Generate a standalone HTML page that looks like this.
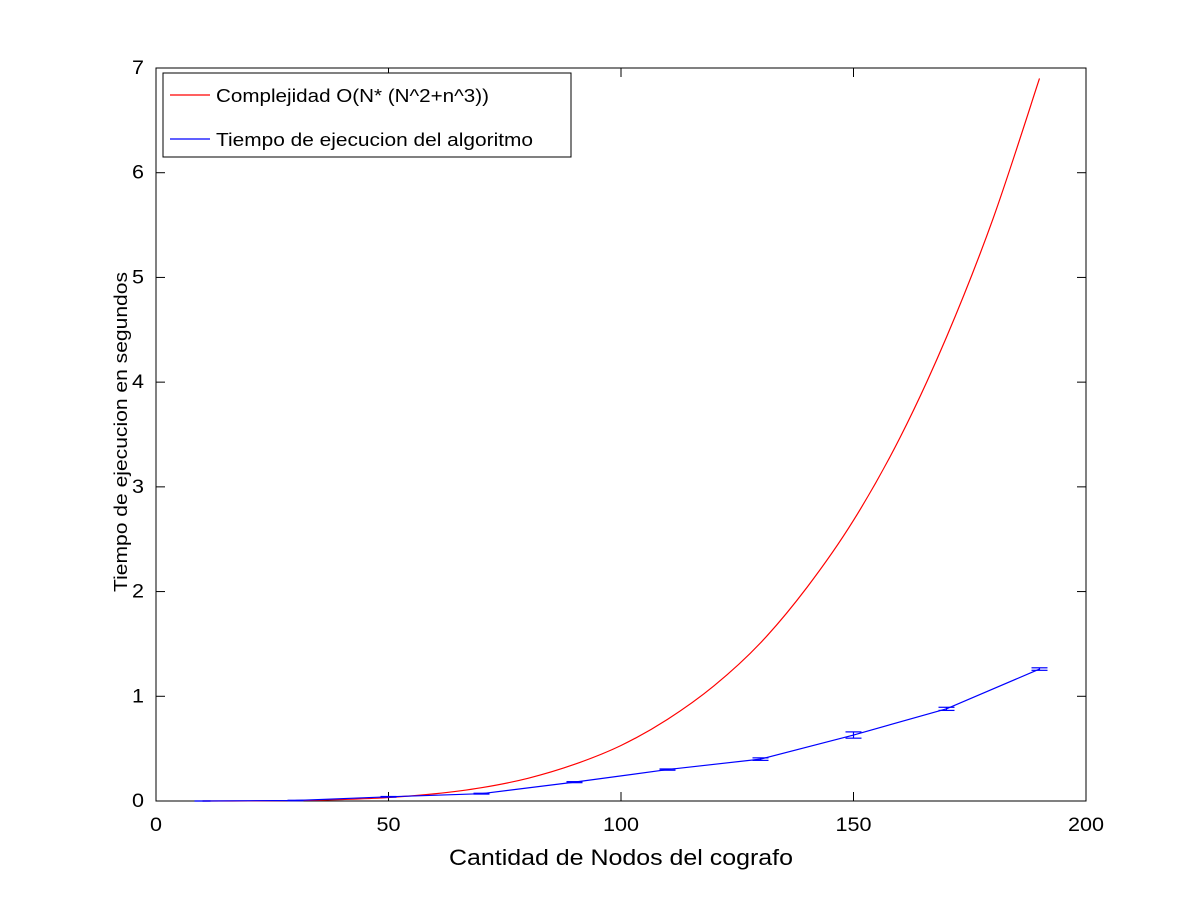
<!DOCTYPE html>
<html><head><meta charset="utf-8"><style>
body{margin:0;background:#fff}
text{font-family:"Liberation Sans",sans-serif;fill:#000}
</style></head><body>
<svg id="chart" width="1200" height="900">
</svg>
<script>
const redX=[10,20,30,40,50,60,70,80,90,100,110,120,130,140,150,160,170,180,190];
const redY=[0.0001,0.0008,0.004,0.014,0.033,0.069,0.127,0.217,0.35,0.53,0.78,1.10,1.51,2.04,2.68,3.47,4.43,5.56,6.9];
const blueX=[10,30,50,70,90,110,130,150,170,190];
const blueY=[0,0.005,0.04,0.07,0.18,0.30,0.40,0.63,0.88,1.26];
const blueErr=[0,0.002,0.003,0.004,0.005,0.006,0.012,0.03,0.015,0.012];
const xTicks=[0,50,100,150,200];
const yTicks=[0,1,2,3,4,5,6,7];
const L=156,R=1086,T=68,B=801;
const sx=v=>L+(v-0)/200*(R-L);
const sy=v=>B-v/7*(B-T);
const NS='http://www.w3.org/2000/svg';
const svg=document.getElementById('chart');
function mk(tag,attrs,parent){const e=document.createElementNS(NS,tag);for(const k in attrs)e.setAttribute(k,attrs[k]);(parent||svg).appendChild(e);return e;}
function smooth(pts){
  let d='M'+pts[0][0]+','+pts[0][1];
  for(let i=0;i<pts.length-1;i++){
    const p0=pts[Math.max(0,i-1)],p1=pts[i],p2=pts[i+1],p3=pts[Math.min(pts.length-1,i+2)];
    const c1=[p1[0]+(p2[0]-p0[0])/6,p1[1]+(p2[1]-p0[1])/6];
    const c2=[p2[0]-(p3[0]-p1[0])/6,p2[1]-(p3[1]-p1[1])/6];
    d+=' C'+c1[0]+','+c1[1]+' '+c2[0]+','+c2[1]+' '+p2[0]+','+p2[1];
  }
  return d;
}
let f=mk('rect',{x:L,y:T,width:R-L,height:B-T,fill:'none',stroke:'#000','stroke-width':1});


xTicks.forEach(v=>{
  const x=sx(v);
  mk('line',{x1:x,y1:B,x2:x,y2:B-9,stroke:'#000'});
  mk('line',{x1:x,y1:T,x2:x,y2:T+9,stroke:'#000'});
  const t=mk('text',{x:x,y:B+30,'text-anchor':'middle','font-size':19,textLength:String(v).length*12,lengthAdjust:'spacingAndGlyphs'});
  t.textContent=v;
  
  
});
yTicks.forEach(v=>{
  const y=sy(v);
  mk('line',{x1:L,y1:y,x2:L+9,y2:y,stroke:'#000'});
  mk('line',{x1:R,y1:y,x2:R-9,y2:y,stroke:'#000'});
  const t=mk('text',{x:L-12,y:y+6,'text-anchor':'end','font-size':19,textLength:12,lengthAdjust:'spacingAndGlyphs'});
  t.textContent=v;
  
  
});
let xl=mk('text',{x:621,y:865,'text-anchor':'middle','font-size':22,textLength:344,lengthAdjust:'spacingAndGlyphs'});
xl.textContent='Cantidad de Nodos del cografo';


let yl=mk('text',{x:127,y:432,'text-anchor':'middle','font-size':18,textLength:320,lengthAdjust:'spacingAndGlyphs',transform:'rotate(-90 127 432)'});
yl.textContent='Tiempo de ejecucion en segundos';


let rp=mk('path',{d:smooth(redX.map((x,i)=>[sx(x),sy(redY[i])])),fill:'none',stroke:'#f00','stroke-width':1.2});


let bp=mk('polyline',{points:blueX.map((x,i)=>sx(x)+','+sy(blueY[i])).join(' '),fill:'none',stroke:'#00f','stroke-width':1.2});


blueX.forEach((x,i)=>{
  const cx=sx(x),y1=sy(blueY[i]-blueErr[i]),y2=sy(blueY[i]+blueErr[i]);
  const g=mk('g',{stroke:'#00f','stroke-width':1.2});
  
  
  mk('line',{x1:cx,y1:y1,x2:cx,y2:y2},g);
  mk('line',{x1:cx-8,y1:y1,x2:cx+8,y2:y1},g);
  mk('line',{x1:cx-8,y1:y2,x2:cx+8,y2:y2},g);
});
let lg=mk('g',{});


mk('rect',{x:163,y:73,width:408,height:84,fill:'#fff',stroke:'#000'},lg);
mk('line',{x1:170,y1:95,x2:210,y2:95,stroke:'#f00','stroke-width':1.2},lg);
let t1=mk('text',{x:216,y:102,'font-size':18,textLength:273,lengthAdjust:'spacingAndGlyphs'},lg);t1.textContent='Complejidad O(N* (N^2+n^3))';


mk('line',{x1:170,y1:139,x2:210,y2:139,stroke:'#00f','stroke-width':1.2},lg);
let t2=mk('text',{x:216,y:146,'font-size':18,textLength:317,lengthAdjust:'spacingAndGlyphs'},lg);t2.textContent='Tiempo de ejecucion del algoritmo';


</script>
</body></html>
